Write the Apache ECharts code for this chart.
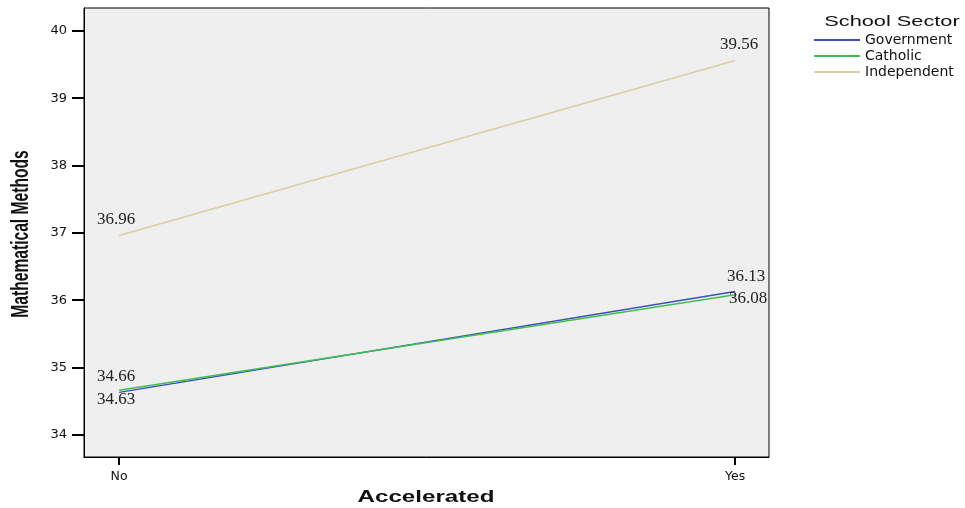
<!DOCTYPE html>
<html>
<head>
<meta charset="utf-8">
<script src="https://cdn.jsdelivr.net/npm/echarts@6/dist/echarts.min.js"></script>
<style>html,body{margin:0;padding:0;background:#fff}#c{width:965px;height:508px}</style>
</head>
<body>
<div id="c"></div>
<script>
const categories = ['No', 'Yes'];
const government = [34.63, 36.13];
const catholic = [34.66, 36.08];
const independent = [36.96, 39.56];
const yTicks = [34, 35, 36, 37, 38, 39, 40];

const chart = echarts.init(document.getElementById('c'));
const labelFont = { fontFamily: 'Liberation Serif', fontSize: 17, color: '#222' };
function mk(vals, offsets) {
  return vals.map((v, i) => ({
    value: [i, v],
    label: Object.assign({ show: true, position: 'inside', offset: offsets[i], formatter: v.toFixed(2) }, labelFont)
  }));
}
function series(name, vals, color, offsets) {
  return {
    name, type: 'line', data: mk(vals, offsets),
    symbol: 'circle', symbolSize: 0.1, showSymbol: true,
    lineStyle: { color, width: 1.5 }, itemStyle: { color },
    emphasis: { disabled: true }, z: 3
  };
}
chart.setOption({
  animation: false,
  grid: { left: 84, top: 8, width: 685, height: 449, show: true, backgroundColor: '#efefef', borderColor: '#000', borderWidth: 1, outerBoundsMode: 'none', containLabel: false },
  legend: {
    orient: 'vertical', left: 809, top: 28, itemWidth: 46, itemHeight: 2, itemGap: 2, icon: 'rect',
    textStyle: { fontFamily: 'DejaVu Sans', fontSize: 14, color: '#111' },
    data: ['Government', 'Catholic', 'Independent']
  },
  graphic: [
    { type: 'text', x: 892, y: 22, scaleX: 1.5, style: { text: 'School Sector', font: '14.5px "Liberation Sans"', fill: '#111', align: 'center', verticalAlign: 'middle' } },
    { type: 'text', x: 21, y: 234, rotation: Math.PI / 2, scaleX: 0.65, style: { text: 'Mathematical Methods', font: 'bold 24px "Liberation Sans"', fill: '#111', align: 'center', verticalAlign: 'middle' } },
    { type: 'text', x: 426, y: 497, scaleX: 1.42, style: { text: 'Accelerated', font: 'bold 17px "Liberation Sans"', fill: '#111', align: 'center', verticalAlign: 'middle' } }
  ],
  xAxis: {
    type: 'value', min: -0.057, max: 1.055,
    axisLine: { show: true, onZero: false, lineStyle: { color: '#000' } },
    axisTick: { show: true, length: 8, lineStyle: { color: '#000', width: 2 }, customValues: [0, 1] },
    axisLabel: { customValues: [0, 1], formatter: v => categories[Math.round(v)], fontFamily: 'DejaVu Sans', fontSize: 12.5, color: '#111', margin: 13 },
    splitLine: { show: false }
  },
  yAxis: {
    type: 'value', min: 33.67, max: 40.34,
    axisLine: { show: true, onZero: false, lineStyle: { color: '#000' } },
    axisTick: { show: true, length: 12, lineStyle: { color: '#000', width: 2 }, customValues: yTicks },
    axisLabel: { customValues: yTicks, fontFamily: 'DejaVu Sans', fontSize: 13, color: '#111', margin: 17 },
    splitLine: { show: false }
  },
  series: [
    series('Government', government, '#3b4fb8', [[-3, 7], [11, -15]]),
    series('Catholic', catholic, '#3fbf4f', [[-3, -14], [13, 4]]),
    series('Independent', independent, '#d8d0a0', [[-3, -16], [4, -16]])
  ]
});
</script>
</body>
</html>
